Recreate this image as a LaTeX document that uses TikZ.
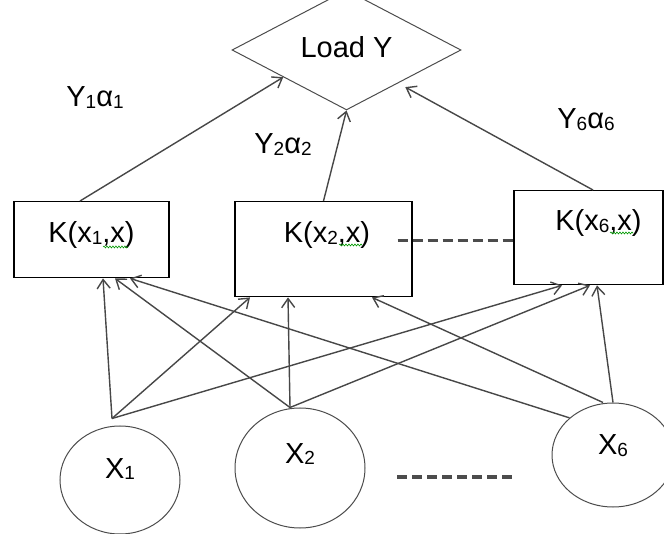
\documentclass[tikz,border=0pt]{standalone}
\usepackage{fontspec}
\setmainfont{Liberation Sans}
\usepackage{tikz}
\usetikzlibrary{shapes,arrows,positioning,calc,decorations.pathmorphing,arrows.meta}

\newcommand{\sbs}[1]{\raisebox{-2pt}{\fontsize{19}{19}\selectfont #1}}

\begin{document}
\begin{tikzpicture}[x=1pt, y=1pt,
    every node/.style={font=\fontsize{29}{34}\selectfont},
    kbox/.style={draw=black, line width=1.4pt, inner sep=0pt},
    inp/.style={draw=black!70, line width=1pt, ellipse, inner sep=0pt},
    wire/.style={draw=black!72, line width=1.4pt, -{Straight Barb[length=9pt,width=13pt]}},
    gap/.style={draw=black!70, line width=3.6pt, dash pattern=on 10pt off 5pt},
    squig/.style={draw=green!60!black, line width=0.6pt, decorate, decoration={snake, amplitude=1pt, segment length=3pt}}]

    \useasboundingbox (0,0) rectangle (664,533);

    % Output
    \node[diamond, draw=black!70, line width=1pt, minimum width=229pt, minimum height=85pt, inner sep=0pt, text depth=7pt] (load) at (346.5,483) {Load Y};

    % Kernel boxes
    \node[kbox, anchor=north, minimum width=155pt, text height=41pt, text depth=35pt] (k1) at (91.5,332) {K(x\sbs{1},x)};
    \node[kbox, anchor=north, minimum width=177pt, text height=41pt, text depth=54pt] (k2) at (323.5,332) {\hspace*{7pt}K(x\sbs{2},x)};
    \node[kbox, anchor=north, minimum width=149pt, text height=40pt, text depth=54pt] (k6) at (588.5,343) {\hspace*{20pt}K(x\sbs{6},x)};
    \draw[squig] ([xshift=11.5pt,yshift=-46pt]k1.north) -- ++(25pt,0);
    \draw[squig] ([xshift=15.5pt,yshift=-44pt]k2.north) -- ++(23pt,0);
    \draw[squig] ([xshift=21.5pt,yshift=-43pt]k6.north) -- ++(23pt,0);

    % Inputs
    \node[inp, minimum width=120pt, minimum height=108pt, text height=20pt, text depth=24pt] (x1) at (120,53) {X\sbs{1}};
    \node[inp, minimum width=130pt, minimum height=120pt, text height=20pt, text depth=30pt] (x2) at (300,65) {X\sbs{2}};
    \node[inp, minimum width=122pt, minimum height=104pt, text height=20pt, text depth=20pt] (x6) at (613,78) {X\sbs{6}};

    % Weights
    \node (w1) at (95,435) {Y\sbs{1}α\sbs{1}};
    \node (w2) at (283,388) {Y\sbs{2}α\sbs{2}};
    \node (w6) at (586,413) {Y\sbs{6}α\sbs{6}};

    % Kernels to output
    \draw[wire] ([xshift=-11.5pt]k1.north) -- ($(load.west)!0.45!(load.south)$);
    \draw[wire] (k2.north) -- (load.south);
    \draw[wire, shorten >=8pt] ([xshift=4.5pt]k6.north) -- ($(load.south)!0.45!(load.east)$);

    % Inputs to kernels
    \coordinate (o1) at ([xshift=-8pt,yshift=7pt]x1.north);
    \coordinate (o2) at ([xshift=-10pt]x2.north);
    \draw[wire] (o1) -- ([xshift=11.5pt]k1.south);
    \draw[wire] (o1) -- ([xshift=-73.5pt]k2.south);
    \draw[wire] (o1) -- ([xshift=-26.5pt]k6.south);
    \draw[wire] (o2) -- ([xshift=23.5pt]k1.south);
    \draw[wire] (o2) -- ([xshift=-35.5pt]k2.south);
    \draw[wire] (o2) -- ([xshift=1.5pt]k6.south);
    \draw[wire] (x6.north west) -- ([xshift=38.5pt]k1.south);
    \draw[wire] ([xshift=-10pt]x6.north) -- ([xshift=48.5pt]k2.south);
    \draw[wire] (x6.north) -- ([xshift=8.5pt]k6.south);

    % Dots
    \draw[gap] ([xshift=-15pt,yshift=8.5pt]k2.east) -- ([yshift=-3pt]k6.west);
    \draw[gap] (397,56) -- (515,56);
\end{tikzpicture}
\end{document}
